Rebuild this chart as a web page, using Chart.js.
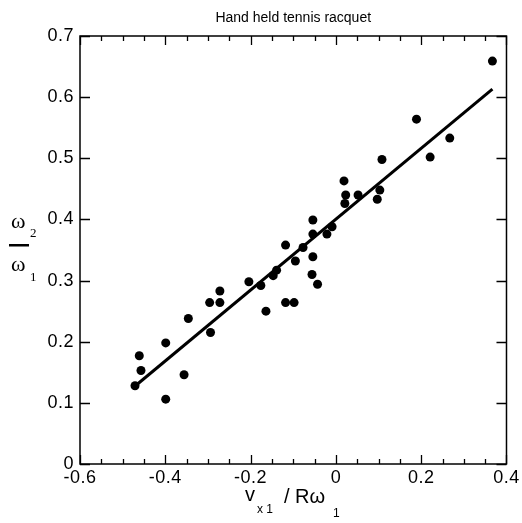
<!DOCTYPE html>
<html>
<head>
<meta charset="utf-8">
<script src="https://cdn.jsdelivr.net/npm/chart.js@4.4.1/dist/chart.umd.min.js"></script>
<style>
  html, body { margin: 0; padding: 0; background: #fff; }
  #wrap { width: 522px; height: 523px; }
</style>
</head>
<body>
<div id="wrap"><canvas id="chart" width="522" height="523"></canvas></div>
<script>
// measured points (v_x1 / R w1, w2 / w1)
const xVals = [0.367, 0.189, 0.267, 0.221, 0.108, 0.019,
  0.023, 0.021, 0.052, 0.103, 0.097, -0.054, -0.054, -0.021, -0.009,
  -0.077, -0.118, -0.095, -0.054, -0.056, -0.043, -0.139, -0.147, -0.176,
  -0.204, -0.272, -0.272, -0.296, -0.118, -0.098, -0.164, -0.346,
  -0.294, -0.399, -0.461, -0.457, -0.356, -0.471, -0.399];
const yVals = [0.659, 0.564, 0.533, 0.502, 0.498, 0.463,
  0.440, 0.426, 0.440, 0.448, 0.433, 0.399, 0.376, 0.376, 0.388,
  0.354, 0.358, 0.332, 0.339, 0.310, 0.294, 0.317, 0.308, 0.292,
  0.298, 0.283, 0.264, 0.264, 0.264, 0.264, 0.250, 0.238,
  0.215, 0.198, 0.177, 0.153, 0.146, 0.128, 0.106];

// least squares line as drawn
const fitX = [-0.470, 0.367];
const fitY = [0.128, 0.613];

const xTicks = [-0.6, -0.4, -0.2, 0, 0.2, 0.4];
const yTicks = [0, 0.1, 0.2, 0.3, 0.4, 0.5, 0.6, 0.7];

const titleText = 'Hand held tennis racquet';
const sans = '"Liberation Sans", Arial, Helvetica, sans-serif';
const serif = '"Liberation Serif", "Times New Roman", serif';

// tick labels in the original are set a little wide
const spacing = {
  id: 'spacing',
  beforeDraw(chart){ chart.ctx.letterSpacing = '0.5px'; },
  afterDraw(chart){ chart.ctx.letterSpacing = '0px'; }
};

// frame, inward ticks, title and axis labels
const decor = {
  id: 'decor',
  afterDatasetsDraw(chart){
    const {ctx, chartArea: a, scales: {x, y}} = chart;
    ctx.save();
    ctx.letterSpacing = '0px';
    ctx.strokeStyle = '#000';
    ctx.lineWidth = 1.5;
    ctx.strokeRect(a.left, a.top, a.right - a.left, a.bottom - a.top);

    ctx.lineWidth = 1.3;
    ctx.beginPath();
    for(let v = -0.6; v <= 0.4001; v += 0.05){
      const px = Math.round(x.getPixelForValue(v)) + 0.5;
      const major = Math.abs(Math.round(v*10) - v*10) < 1e-6 && Math.round(v*10) % 2 === 0;
      const len = major ? 9 : 5;
      ctx.moveTo(px, a.bottom); ctx.lineTo(px, a.bottom - len);
      ctx.moveTo(px, a.top); ctx.lineTo(px, a.top + len);
    }
    yTicks.forEach(v => {
      const py = Math.round(y.getPixelForValue(v)) + 0.5;
      ctx.moveTo(a.left, py); ctx.lineTo(a.left + 10, py);
      ctx.moveTo(a.right, py); ctx.lineTo(a.right - 10, py);
    });
    ctx.stroke();

    ctx.fillStyle = '#000';
    ctx.textBaseline = 'alphabetic';
    ctx.textAlign = 'center';
    ctx.font = '14px ' + sans;
    ctx.fillText(titleText, (a.left + a.right)/2, 22);

    // x label: v_x1 / R w_1
    ctx.textAlign = 'left';
    ctx.font = '20px ' + sans;
    ctx.fillText('v', 245, 501);
    ctx.font = '12px ' + sans;
    ctx.fillText('x 1', 257, 513);
    ctx.font = '20px ' + sans;
    ctx.fillText('/ R\u03c9', 284, 503);
    ctx.font = '12px ' + sans;
    ctx.fillText('1', 333, 517);

    // y label: w2 over w1
    ctx.font = '22px ' + serif;
    ctx.fillText('\u03c9', 11, 228);
    ctx.fillText('\u03c9', 11, 271);
    ctx.font = '13px ' + serif;
    ctx.fillText('2', 30, 237);
    ctx.fillText('1', 30, 281);
    ctx.fillRect(9, 244, 20, 2.5);
    ctx.restore();
  }
};

new Chart(document.getElementById('chart'), {
  type: 'scatter',
  data: {
    datasets: [
      {
        type: 'line',
        data: fitX.map((v, i) => ({x: v, y: fitY[i]})),
        borderColor: '#000',
        borderWidth: 3,
        pointRadius: 0,
        fill: false
      },
      {
        data: xVals.map((v, i) => ({x: v, y: yVals[i]})),
        backgroundColor: '#000',
        borderColor: '#000',
        pointRadius: 4.5,
        pointBorderWidth: 0
      }
    ]
  },
  options: {
    responsive: false,
    animation: false,
    events: [],
    layout: { padding: { top: 36, right: 15, left: 0, bottom: 0 } },
    plugins: { legend: { display: false }, tooltip: { enabled: false }, title: { display: false } },
    scales: {
      x: {
        type: 'linear', min: -0.6, max: 0.4,
        afterBuildTicks: s => { s.ticks = xTicks.map(v => ({value: v})); },
        afterFit: s => { s.height = 59; },
        grid: { display: false, drawTicks: false },
        border: { display: false },
        ticks: {
          color: '#000', padding: 3,
          font: { family: sans, size: 18 },
          callback: v => String(Math.round(v*10)/10)
        }
      },
      y: {
        type: 'linear', min: 0, max: 0.7,
        afterBuildTicks: s => { s.ticks = yTicks.map(v => ({value: v})); },
        afterFit: s => { s.width = 80; },
        grid: { display: false, drawTicks: false },
        border: { display: false },
        ticks: {
          color: '#000', padding: 6,
          font: { family: sans, size: 18 },
          callback: v => String(Math.round(v*10)/10)
        }
      }
    }
  },
  plugins: [spacing, decor]
});
</script>
</body>
</html>
